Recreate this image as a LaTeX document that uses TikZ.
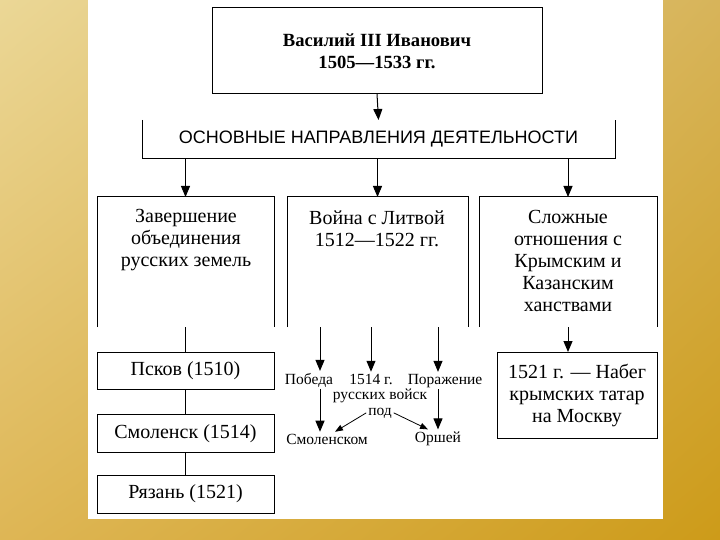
\documentclass[tikz,border=0pt]{standalone}
\usepackage{fontspec}
\setmainfont{Liberation Serif}
\newfontfamily\arialfont{Liberation Sans}
\usetikzlibrary{arrows.meta,calc,shadings}
\definecolor{bgUL}{RGB}{235,215,150}
\definecolor{bgUR}{RGB}{215,180,90}
\definecolor{bgLL}{RGB}{222,182,85}
\definecolor{bgLR}{RGB}{205,155,25}
\begin{document}
\begin{tikzpicture}[x=1pt,y=-1pt,
  every node/.style={inner sep=0pt, outer sep=0pt},
  frame/.style={draw, line width=1pt},
  big/.style={font=\fontsize{20}{22}\selectfont, align=center},
  small/.style={font=\fontsize{15.5}{16}\selectfont, inner sep=2pt, anchor=base},
  arr/.style={line width=1pt, -{Triangle[length=11pt,width=9pt]}},
  sarr/.style={line width=0.8pt, -{Triangle[length=8pt,width=6pt]}},
  ln/.style={line width=1pt}]
\useasboundingbox (0,0) rectangle (720,540);
\shade[upper left=bgUL, upper right=bgUR, lower left=bgLL, lower right=bgLR] (0,0) rectangle (720,540);
\fill[white] (88,0) rectangle (663,519);

\node[frame, minimum width=330pt, minimum height=86pt, font=\bfseries\fontsize{18.6}{22}\selectfont, align=center] (vas) at (377,51) {Василий III Иванович\\1505—1533 гг.};

\node[minimum width=473pt, minimum height=39pt, font=\arialfont\fontsize{18}{20}\selectfont] (osn) at (378.5,139.5) {ОСНОВНЫЕ НАПРАВЛЕНИЯ ДЕЯТЕЛЬНОСТИ};
\draw[ln] (osn.north west) -- (osn.south west) -- (osn.south east) -- (osn.north east);
\draw[arr] (vas.south) -- (osn.north);

\node[minimum width=177pt, minimum height=130pt] (b1) at (185.5,262) {};
\node[minimum width=181pt, minimum height=130pt] (b2) at (377.5,262) {};
\node[minimum width=178pt, minimum height=130pt] (b3) at (568,262) {};
\foreach \b in {b1,b2,b3}
  \draw[ln] (\b.south west) -- (\b.north west) -- (\b.north east) -- (\b.south east);
\draw[arr] (osn.south -| b1) -- (b1.north);
\draw[arr] (osn.south -| b2) -- (b2.north);
\draw[arr] (osn.south -| b3) -- (b3.north);

\node[big] (t1) at (186,240) {Завершение\\объединения\\русских земель};
\node[big] (t2) at (377,229) {Война с Литвой\\1512—1522 гг.};
\node[big] (t3) at (568,261) {Сложные\\отношения с\\Крымским и\\Казанским\\ханствами};

\node[frame, big, minimum width=177pt, minimum height=37pt] (psk) at (185.5,370.5) {Псков (1510)};
\node[frame, big, minimum width=177pt, minimum height=38pt] (smo) at (185.5,433.5) {Смоленск (1514)};
\node[frame, big, minimum width=177pt, minimum height=38pt] (rya) at (185.5,494) {Рязань (1521)};
\draw[ln] (b1.south) -- (psk.north);
\draw[ln] (psk.south) -- (smo.north);
\draw[ln] (smo.south) -- (rya.north);

\node[small] (pob) at (309,384) {Победа};
\node[small] (god) at (371,384) {1514 г.};
\node[small] (por) at (445,384) {Поражение};
\node[small] (rv) at (380,399) {русских войск};
\node[small] (pod) at (380,415) {под};
\node[small] (sml) at (327,444) {Смоленском};
\node[small] (ors) at (438,442) {Оршей};
\coordinate (pw) at (320,0);

\draw[arr] (b2.south -| pw) -- (pob.north -| pw);
\draw[arr] (b2.south -| god) -- (god.north);
\draw[arr] (b2.south -| ors) -- (por.north -| ors);
\draw[arr] (pob.south -| pw) -- (sml.north -| pw);
\draw[arr] (por.south -| ors) -- (ors.north);
\draw[sarr] (pod.west) -- ($(sml.north)+(8,0)$);
\draw[sarr] (pod.east) -- ($(ors.north)+(-10,0)$);

\node[frame, big, minimum width=160pt, minimum height=86pt] (nab) at (577,395) {1521 г. — Набег\\крымских татар\\на Москву};
\draw[arr] (b3.south) -- (b3.south |- nab.north);
\end{tikzpicture}
\end{document}
